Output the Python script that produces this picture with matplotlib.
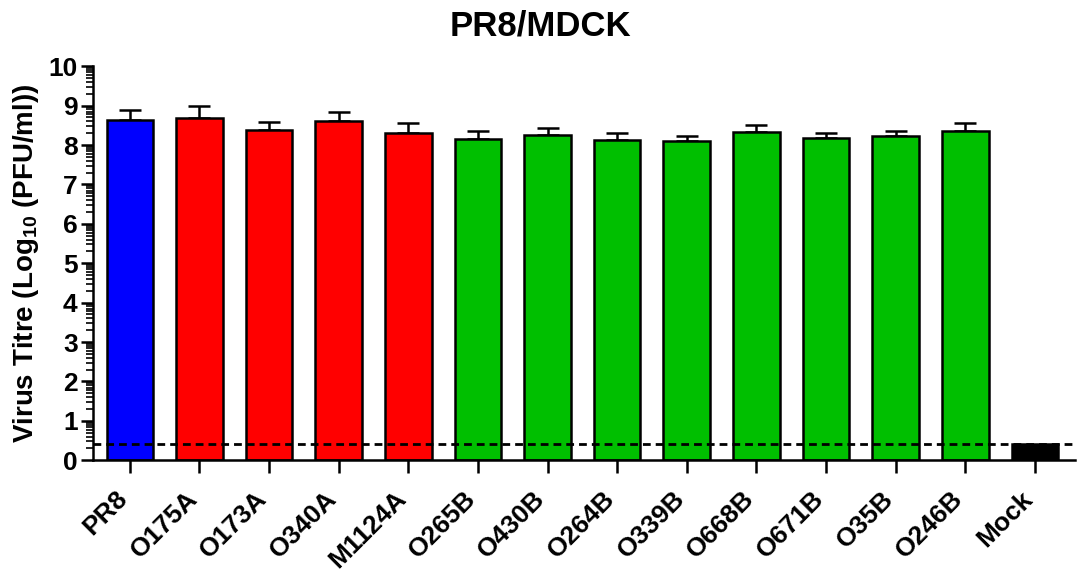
import numpy as np
import matplotlib
matplotlib.use("Agg")
import matplotlib.pyplot as plt
from matplotlib.ticker import FixedLocator
from matplotlib.transforms import ScaledTranslation

plt.rcParams['font.family'] = ['Liberation Sans', 'DejaVu Sans']
plt.rcParams['font.weight'] = 'bold'
plt.rcParams['mathtext.fontset'] = 'custom'
plt.rcParams['mathtext.rm'] = 'Liberation Sans:bold'
plt.rcParams['mathtext.bf'] = 'Liberation Sans:bold'

# Virus titres (log10 PFU/ml), mean and SD
strains = ["PR8", "O175A", "O173A", "O340A", "M1124A", "O265B", "O430B",
           "O264B", "O339B", "O668B", "O671B", "O35B", "O246B", "Mock"]
titre = [8.63, 8.68, 8.38, 8.60, 8.30, 8.15, 8.25, 8.12, 8.11, 8.32, 8.17, 8.22, 8.35, 0.40]
sd = [0.25, 0.30, 0.20, 0.23, 0.25, 0.20, 0.18, 0.18, 0.11, 0.18, 0.13, 0.13, 0.20, 0.0]
group = ["wt", "A", "A", "A", "A", "B", "B", "B", "B", "B", "B", "B", "B", "mock"]
detection_limit = 0.40

palette = {"wt": "#0000FF", "A": "#FF0000", "B": "#00BF00", "mock": "#000000"}

fig = plt.figure(figsize=(10.81, 5.71), dpi=100)
ax = fig.add_axes([0.086, 0.194, 0.908, 0.690])

x = np.arange(len(strains))
colors = [palette[g] for g in group]
ax.bar(x, titre, width=0.67, color=colors, edgecolor="black", linewidth=1.8, zorder=2)

# upper-only error bars
has_err = np.array(sd) > 0
ax.errorbar(x[has_err], np.array(titre)[has_err],
            yerr=[np.zeros(has_err.sum()), np.array(sd)[has_err]],
            fmt="none", ecolor="black", elinewidth=1.8, capsize=8, capthick=1.8, zorder=1)

ax.axhline(detection_limit, color="black", linestyle=(0, (2.8, 1.8)), linewidth=2.0, zorder=3)

ax.set_xlim(-0.53, 13.57)
ax.set_ylim(0, 10)

ax.spines["top"].set_visible(False)
ax.spines["right"].set_visible(False)
ax.spines["left"].set_linewidth(1.8)
ax.spines["bottom"].set_linewidth(1.8)

ax.set_yticks(np.arange(0, 11, 1))
minor = [n + np.log10(k) for n in range(10) for k in range(2, 10)]
ax.yaxis.set_minor_locator(FixedLocator(minor))
ax.tick_params(axis="y", which="major", length=9, width=1.8, labelsize=19, pad=2)
ax.tick_params(axis="y", which="minor", length=5, width=1.2)
ax.tick_params(axis="x", which="major", length=9, width=1.8, labelsize=19, pad=16)

ax.set_xticks(x)
ax.set_xticklabels(strains, rotation=45, ha="right", va="center", rotation_mode="anchor",
                   fontweight="bold")
shift = ScaledTranslation(-0.06, 0, fig.dpi_scale_trans)
for lab in ax.get_xticklabels():
    lab.set_transform(lab.get_transform() + shift)
for lab in ax.get_yticklabels():
    lab.set_fontweight("bold")

ax.set_ylabel(r"Virus Titre (Log$_{\mathbf{10}}$ (PFU/ml))", fontsize=20, fontweight="bold", labelpad=5)
fig.text(0.5, 1 - 36 / 571, "PR8/MDCK", fontsize=25, fontweight="bold",
         ha="center", va="baseline")

fig.savefig("out.png", dpi=100)
